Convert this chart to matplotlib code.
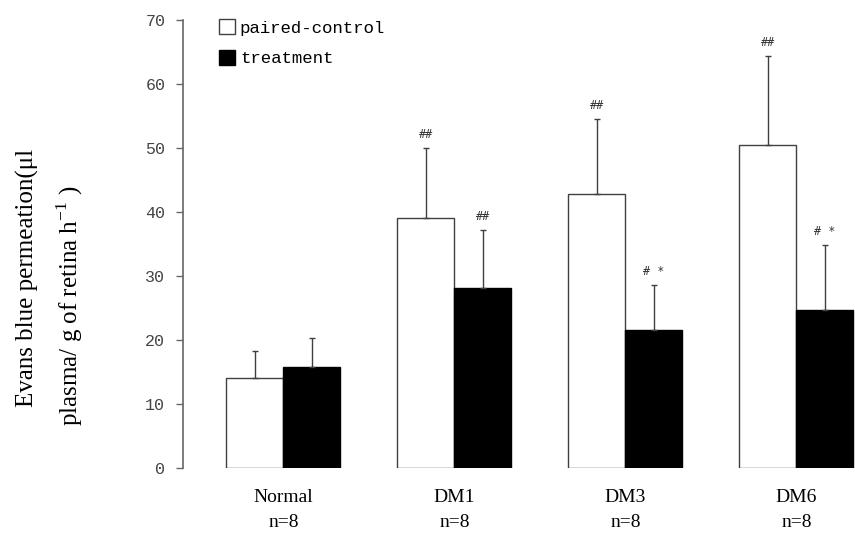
#! /usr/bin/env python
#
# Evans blue permeation, paired-control vs treatment, per group

import numpy             as np
import matplotlib
matplotlib.use("Agg")
import matplotlib.pyplot as plt
from matplotlib.patches import Patch

groups      = ["Normal", "DM1", "DM3", "DM6"]
n_labels    = ["n=8", "n=8", "n=8", "n=8"]
control     = [14.1, 39.1, 42.8, 50.5]
control_err = [4.3, 10.9, 11.8, 13.9]
treat       = [15.8, 28.2, 21.6, 24.7]
treat_err   = [4.5, 9.1, 7.0, 10.2]
control_sig = ["", "##", "##", "##"]
treat_sig   = ["", "##", "# *", "# *"]

x = np.arange(len(groups))
w = 1.0 / 3

fig = plt.figure(figsize=(8.55, 5.35), dpi=100)
ax  = fig.add_axes([0.2144, 0.1247, 0.7856, 0.8374])

line_col = "#404040"
ax.bar(x - w/2, control, w, color="white", edgecolor=line_col, linewidth=1.0,
       yerr=[np.zeros(len(control)), control_err],
       error_kw=dict(ecolor=line_col, elinewidth=1.0, capsize=2.2, capthick=1.0))
ax.bar(x + w/2, treat, w, color="black", edgecolor="black", linewidth=1.0,
       yerr=[np.zeros(len(treat)), treat_err],
       error_kw=dict(ecolor=line_col, elinewidth=1.0, capsize=2.2, capthick=1.0))

for i in range(len(groups)):
    if control_sig[i]:
        ax.annotate(control_sig[i], (x[i] - w/2, control[i] + control_err[i]),
                    xytext=(0, 5), textcoords="offset points", ha="center",
                    va="bottom", fontsize=8.5, color="#333333", family="DejaVu Sans Mono")
    if treat_sig[i]:
        ax.annotate(treat_sig[i], (x[i] + w/2, treat[i] + treat_err[i]),
                    xytext=(0, 5), textcoords="offset points", ha="center",
                    va="bottom", fontsize=8.5, color="#333333", family="DejaVu Sans Mono")

ax.set_xlim(-0.585, 3.343)
ax.set_ylim(0, 70)
ax.set_yticks(range(0, 71, 10))
ax.tick_params(axis="y", direction="out", length=5, width=1, color="#666666",
               labelsize=12, labelcolor="#444444", pad=8)
for lab in ax.get_yticklabels():
    lab.set_family("Liberation Mono")

ax.set_xticks(x)
ax.set_xticklabels([g + "\n" + n for g, n in zip(groups, n_labels)],
                   family="Liberation Serif", fontsize=14, linespacing=1.6)
ax.tick_params(axis="x", length=0, pad=15)

for side in ["top", "right", "bottom"]:
    ax.spines[side].set_visible(False)
ax.spines["left"].set_color("#666666")
ax.spines["left"].set_linewidth(1.2)

# y label, two lines placed on their own as in the original
fig.text(27 / 855, 1 - 278 / 535, "Evans blue permeation(\u03bcl", rotation=90,
         ha="center", va="center", family="Liberation Serif", fontsize=18)
fig.text(70 / 855, 1 - 306 / 535, "plasma/ g of retina h$^{\\mathregular{-1}}$ )",
         rotation=90, ha="center", va="center", family="Liberation Serif", fontsize=18)

handles = [Patch(facecolor="white", edgecolor=line_col, linewidth=1.0),
           Patch(facecolor="black", edgecolor="black")]
ax.legend(handles, ["paired-control", "treatment"], loc="upper left",
          bbox_to_anchor=(0.03, 1.037), frameon=False,
          prop={"family": "Liberation Mono", "size": 12.5},
          handlelength=0.9, handleheight=0.9, handletextpad=0.3, labelspacing=0.85)

fig.savefig("out.png", dpi=100)
plt.close()
